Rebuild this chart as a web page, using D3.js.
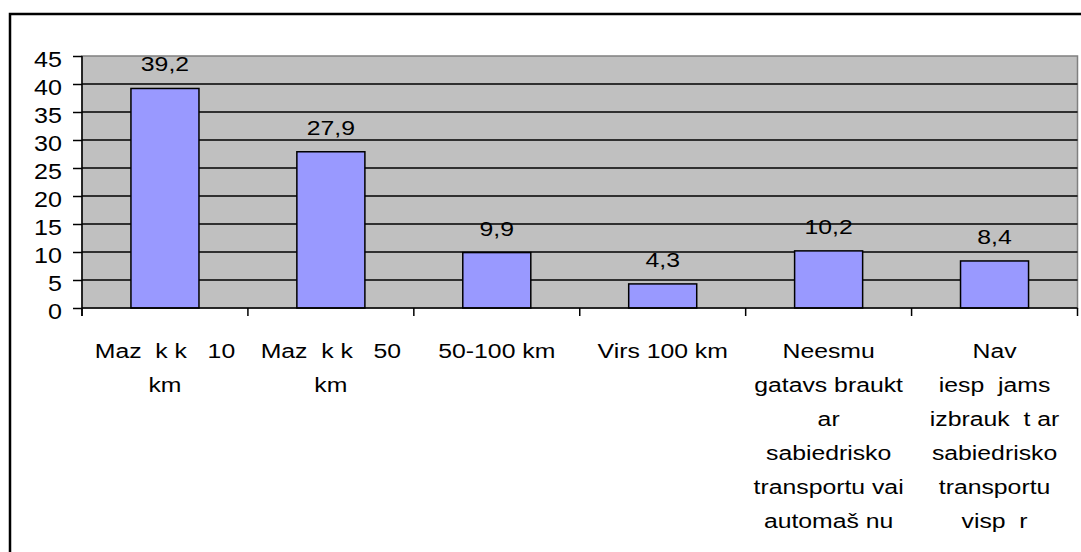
<!DOCTYPE html>
<html><head><meta charset="utf-8">
<script src="https://cdn.jsdelivr.net/npm/d3@7"></script>
<style>body{margin:0;background:#fff}svg{display:block}text{font-family:"Liberation Sans",Arial,sans-serif;fill:#000}</style>
</head><body><svg id="c" width="1081" height="552"></svg>
<script>
const categories = [
  ["Maz  k k   10","km"],
  ["Maz  k k   50","km"],
  ["50-100 km"],
  ["Virs 100 km"],
  ["Neesmu","gatavs braukt","ar","sabiedrisko","transportu vai","automaš nu"],
  ["Nav","iesp  jams","izbrauk  t ar","sabiedrisko","transportu","visp  r"]
];
const values = [39.2, 27.9, 9.9, 4.3, 10.2, 8.4];
const valueLabels = ["39,2","27,9","9,9","4,3","10,2","8,4"];
const yTicks = [0,5,10,15,20,25,30,35,40,45];

const FS = 21, SX = 1.18;
const svg = d3.select("#c");
const L = 82, R = 1077.5, T = 56, B = 308;
const x = d3.scaleBand().domain(d3.range(values.length)).range([L, R]).paddingInner(0.59).paddingOuter(0.295);
const xb = d3.scaleBand().domain(d3.range(values.length)).range([L, R]);
const y = d3.scaleLinear().domain([0,45]).range([B, T]);
const place = (px, py) => `translate(${px},${py}) scale(${SX},1)`;

// outer border
svg.append("rect").attr("x",10).attr("y",14).attr("width",1090).attr("height",560)
  .attr("fill","none").attr("stroke","#000").attr("stroke-width",2.5);

// plot background
svg.append("rect").attr("x",L).attr("y",T).attr("width",R-L).attr("height",B-T)
  .attr("fill","#c0c0c0").attr("stroke","#808080").attr("stroke-width",1.5);

// gridlines
svg.append("g").selectAll("line").data(yTicks.filter(d=>d>0 && d<45)).join("line")
  .attr("x1",L).attr("x2",R).attr("y1",d=>y(d)).attr("y2",d=>y(d))
  .attr("stroke","#000").attr("stroke-width",1.5);

// bars
svg.append("g").selectAll("rect").data(values).join("rect")
  .attr("x",(d,i)=>x(i)).attr("width",x.bandwidth())
  .attr("y",d=>y(d)).attr("height",d=>B-y(d))
  .attr("fill","#9999ff").attr("stroke","#000").attr("stroke-width",1.5);

// value labels
svg.append("g").selectAll("text").data(values).join("text")
  .attr("transform",(d,i)=>place(x(i)+x.bandwidth()/2, y(d)-17))
  .attr("text-anchor","middle").attr("font-size",FS)
  .text((d,i)=>valueLabels[i]);

// y axis
const ya = svg.append("g").attr("transform",`translate(${L},0)`)
  .call(d3.axisLeft(y).tickValues(yTicks).tickSize(9).tickPadding(10).tickFormat(d3.format("d")));
ya.select(".domain").remove();
ya.append("line").attr("x1",0).attr("x2",0).attr("y1",T).attr("y2",B+8).attr("stroke","#000").attr("stroke-width",1.5);
ya.selectAll(".tick line").attr("stroke","#000").attr("stroke-width",1.5);
ya.selectAll(".tick text")
  .attr("x",null).attr("dy",null)
  .attr("transform",`translate(-20,10.5) scale(1.14,1)`)
  .attr("font-size",22).attr("font-family","Liberation Sans, Arial, sans-serif").attr("fill","#000");

// x axis
svg.append("line").attr("x1",L).attr("x2",R).attr("y1",B).attr("y2",B).attr("stroke","#000").attr("stroke-width",1.5);
const xt = d3.range(values.length+1).map(i => i<values.length ? xb(i) : R);
svg.append("g").selectAll("line").data(xt).join("line")
  .attr("x1",d=>d).attr("x2",d=>d).attr("y1",B).attr("y2",B+8)
  .attr("stroke","#000").attr("stroke-width",1.5);

// category labels
const cl = svg.append("g").selectAll("text").data(categories).join("text")
  .attr("text-anchor","middle").attr("font-size",FS)
  .attr("transform",(d,i)=>place(xb(i)+xb.bandwidth()/2, 358))
  .style("white-space","pre");
cl.each(function(lines){
  const t = d3.select(this);
  lines.forEach((s,j)=>{
    t.append("tspan").attr("x",0).attr("y",j*34).text(s);
  });
});
</script></body></html>
